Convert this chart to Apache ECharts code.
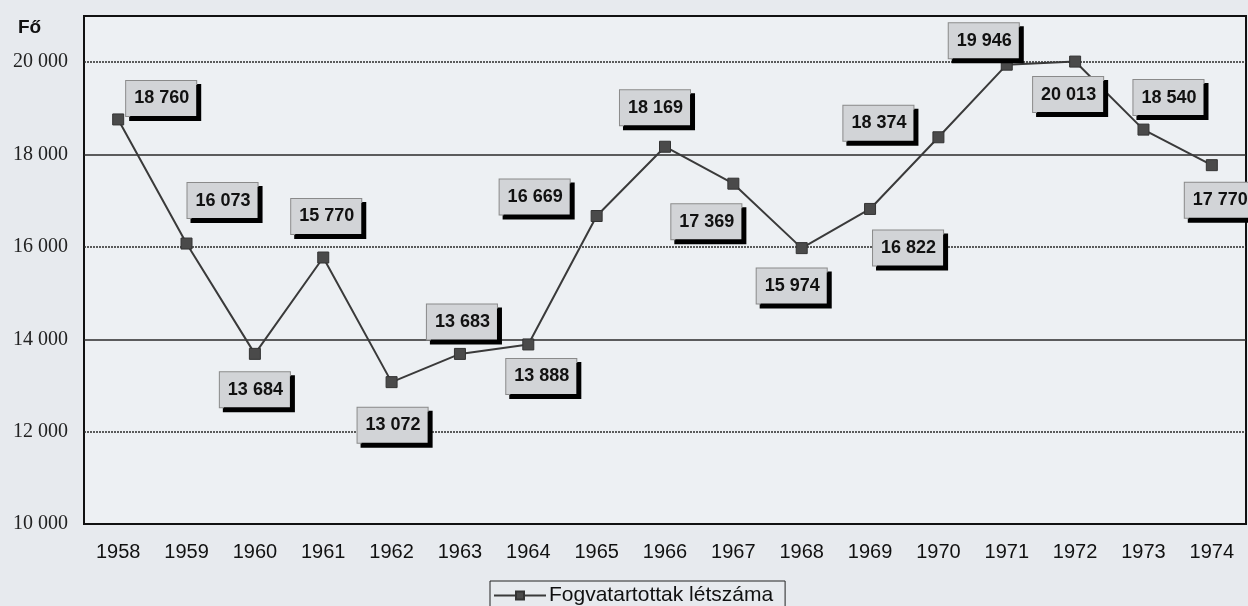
<!DOCTYPE html>
<html>
<head>
    <meta charset="utf-8">
    <title>Fogvatartottak létszáma</title>
    <script src="https://cdn.jsdelivr.net/npm/echarts@6.0.0/dist/echarts.min.js"></script>
    <style>
        html, body { margin: 0; padding: 0; background: #e7eaee; }
        #main { width: 1248px; height: 606px; }
    </style>
</head>
<body>
    <div id="main"></div>
    <script>
        // adatok
        var years = ['1958', '1959', '1960', '1961', '1962', '1963', '1964', '1965', '1966',
                     '1967', '1968', '1969', '1970', '1971', '1972', '1973', '1974'];
        var prisoners = [18760, 16073, 13684, 15770, 13072, 13683, 13888, 16669, 18169,
                         17369, 15974, 16822, 18374, 19946, 20013, 18540, 17770];
        var solidGrid = [18000, 14000];
        var dottedGrid = [20000, 16000, 12000];
        var seriesName = 'Fogvatartottak létszáma';

        // címkék eltolása a ponthoz képest (elrendezés)
        var labelOffsets = [
            [43, -21], [36, -43], [0, 36], [3, -41], [1, 43], [2, -32], [13, 32], [-62, -19],
            [-10, -39], [-27, 38], [-10, 38], [38, 39], [-60, -14], [-23, -24], [-7, 33],
            [25, -32], [8, 35]
        ];

        function fmt(v) {
            return String(v).replace(/\B(?=(\d{3})+(?!\d))/g, ' ');
        }

        var gridLines = solidGrid.map(function (v) {
            return { yAxis: v, lineStyle: { type: 'solid', color: '#2a2a2a', width: 1.5 } };
        }).concat(dottedGrid.map(function (v) {
            return { yAxis: v, lineStyle: { type: [2, 1], color: '#2a2a2a', width: 1.5 } };
        }));

        var myChart = echarts.init(document.getElementById('main'));

        var option = {
            backgroundColor: '#e7eaee',
            animation: false,
            title: {
                text: 'Fő',
                left: 13,
                top: 13,
                textStyle: { fontFamily: 'Liberation Sans', fontWeight: 'bold', fontSize: 19, color: '#111' }
            },
            legend: {
                data: [seriesName],
                left: 490,
                top: 581,
                itemWidth: 52,
                itemHeight: 10,
                itemGap: 4,
                padding: [4, 12, 5, 3],
                borderColor: '#222',
                borderWidth: 1,
                textStyle: { fontFamily: 'Liberation Sans', fontSize: 21, color: '#111', padding: [0, 0, 0, -2] }
            },
            grid: {
                left: 84,
                right: 2,
                top: 16,
                bottom: 82,
                show: true,
                backgroundColor: '#edf0f3',
                borderColor: '#111',
                borderWidth: 2
            },
            xAxis: {
                type: 'category',
                data: years,
                axisLine: { show: true, lineStyle: { color: '#111', width: 2 } },
                axisTick: { show: false },
                axisLabel: {
                    margin: 18,
                    fontFamily: 'Liberation Sans',
                    fontSize: 20,
                    color: '#111'
                }
            },
            yAxis: {
                type: 'value',
                min: 10000,
                max: 21000,
                interval: 2000,
                axisLine: { show: false },
                axisTick: { show: false },
                splitLine: { show: false },
                axisLabel: {
                    margin: 16,
                    fontFamily: 'Liberation Serif',
                    fontSize: 20,
                    color: '#222',
                    formatter: function (v) { return v > 20000 ? '' : fmt(v); }
                }
            },
            series: [{
                name: seriesName,
                type: 'line',
                data: prisoners.map(function (v, i) {
                    return { value: v, label: { offset: labelOffsets[i] } };
                }),
                symbol: 'rect',
                symbolSize: 11,
                itemStyle: { color: '#4a4a4a', borderColor: '#333', borderWidth: 1 },
                lineStyle: { color: '#3a3a3a', width: 2 },
                label: {
                    show: true,
                    position: 'inside',
                    formatter: function (p) { return fmt(p.value); },
                    fontFamily: 'Liberation Sans',
                    fontWeight: 'bold',
                    fontSize: 18,
                    color: '#111',
                    backgroundColor: '#d2d4d7',
                    borderColor: '#8a8a8a',
                    borderWidth: 1,
                    padding: [9, 7, 8, 8],
                    shadowColor: '#000',
                    shadowOffsetX: 4,
                    shadowOffsetY: 4,
                    shadowBlur: 0
                },
                markLine: {
                    silent: true,
                    symbol: 'none',
                    label: { show: false },
                    data: gridLines,
                    z: 1
                },
                z: 3
            }]
        };

        myChart.setOption(option);
    </script>
</body>
</html>
